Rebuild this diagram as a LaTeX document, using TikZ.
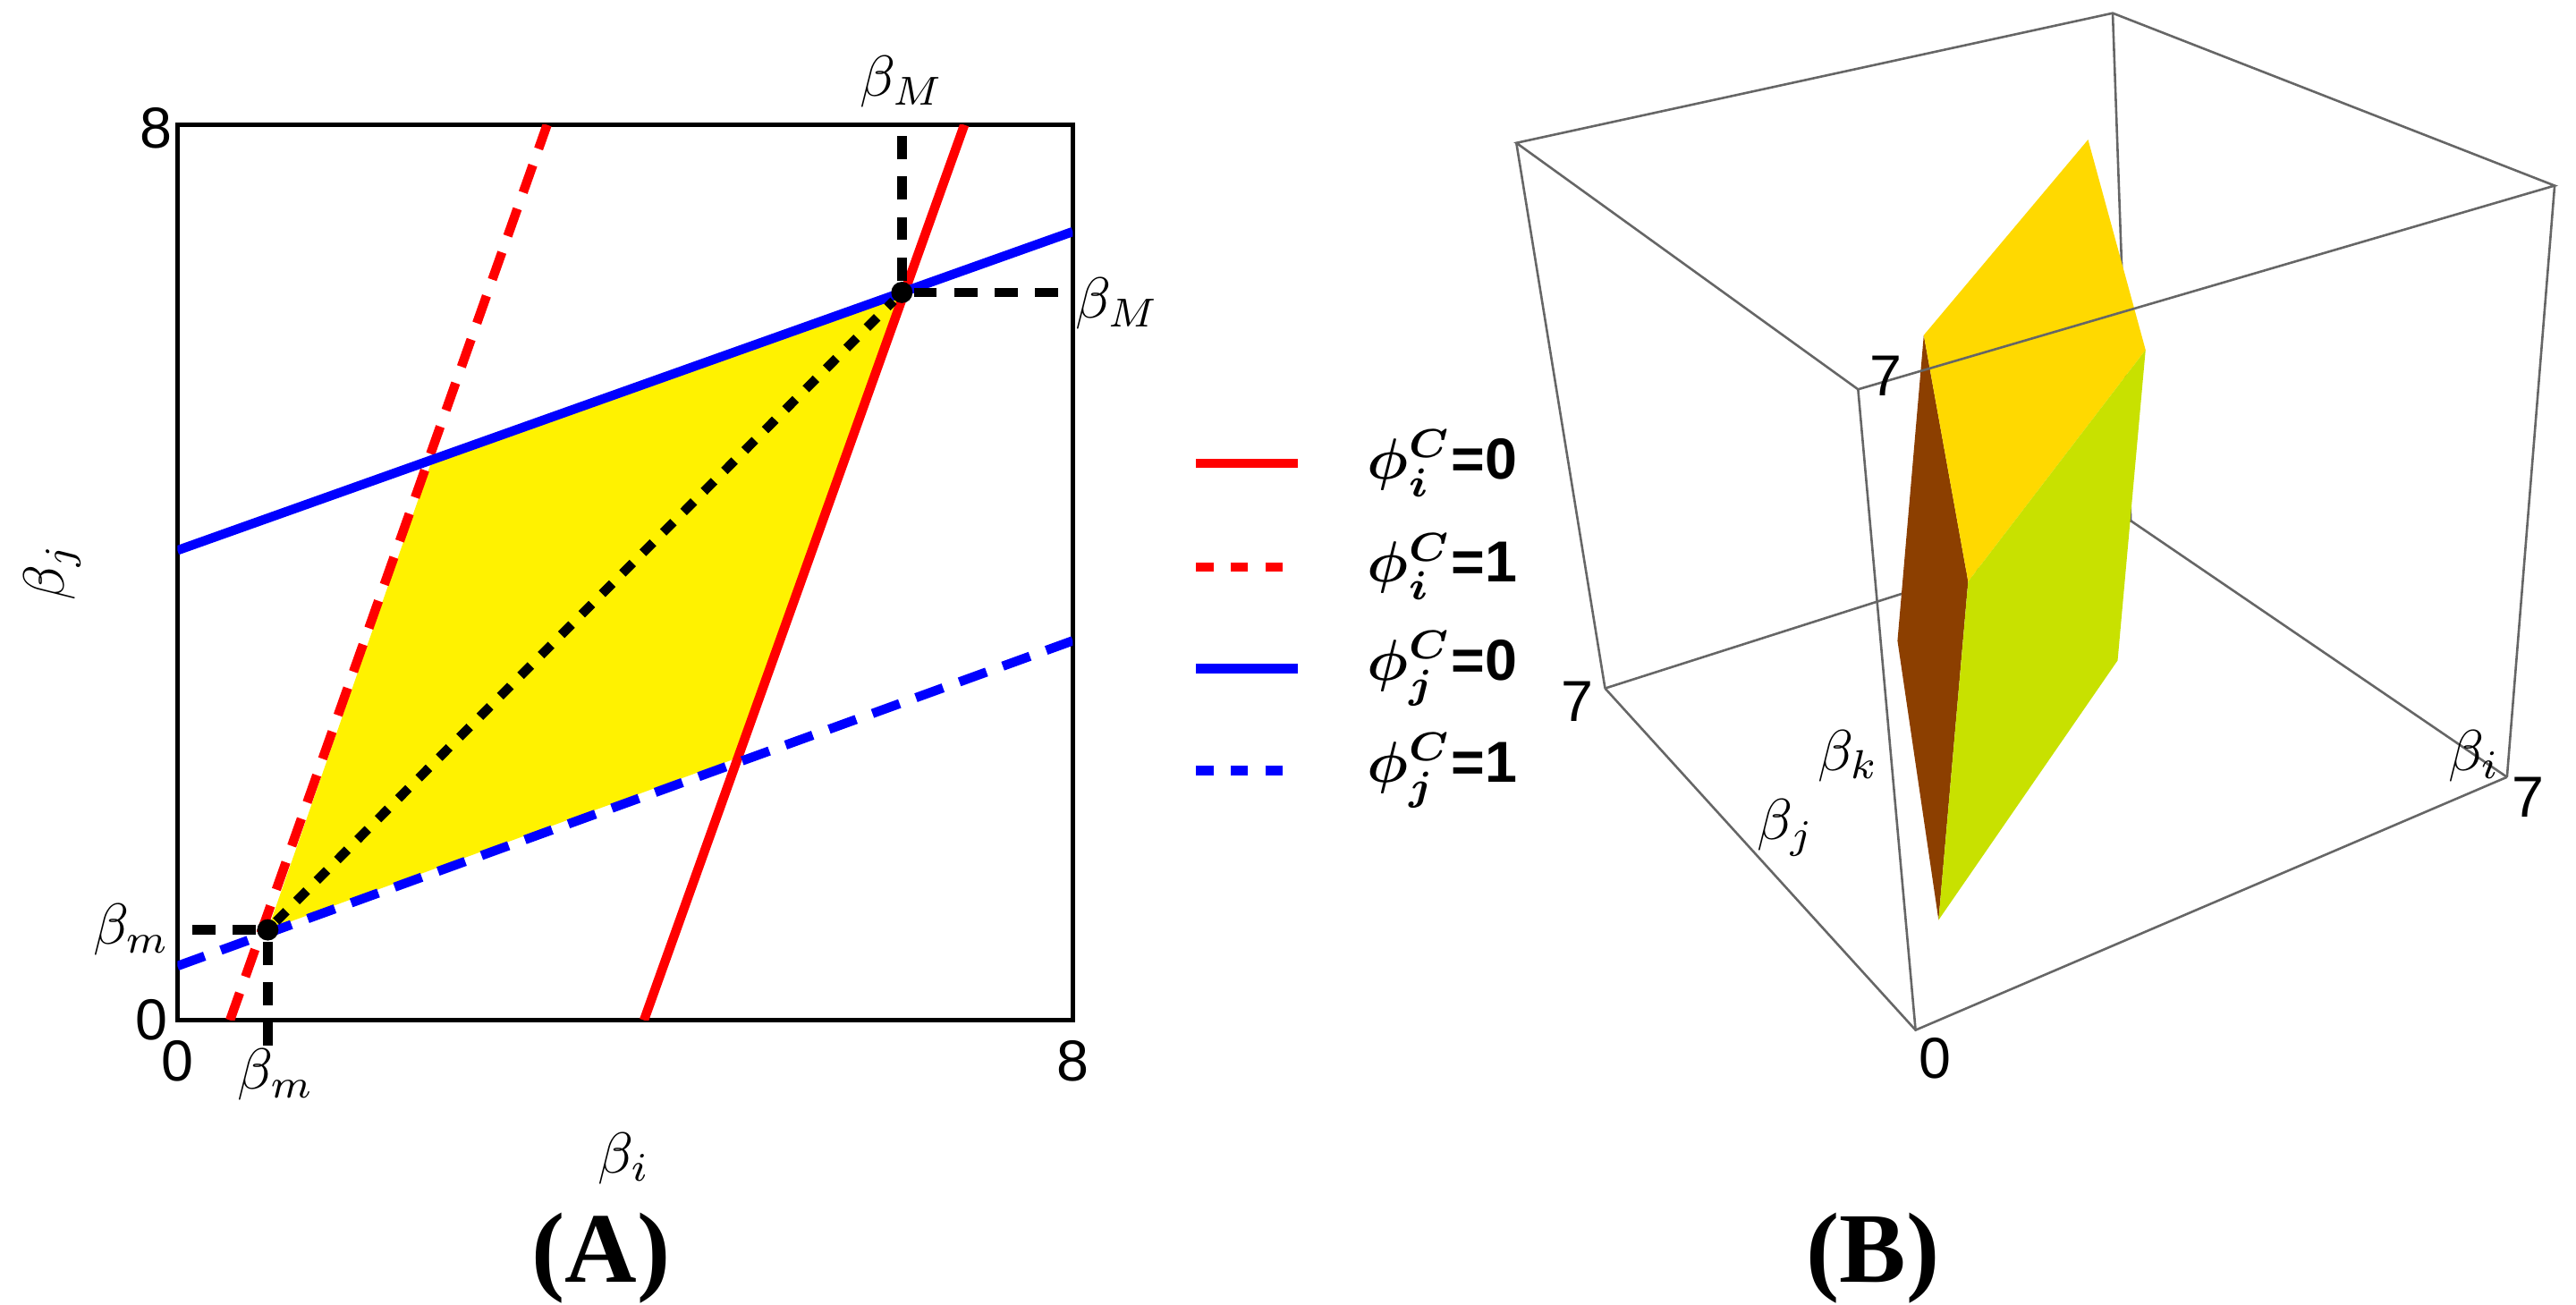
\documentclass[tikz,border=0pt]{standalone}
\usepackage{amsmath,amssymb}
\usepackage{fontspec}
\setmainfont{Liberation Sans}
\newfontfamily\capfont{Liberation Serif}
\usetikzlibrary{positioning}
\definecolor{facetop}{RGB}{255,217,0}
\definecolor{faceside}{RGB}{200,225,0}
\definecolor{faceback}{RGB}{140,63,0}
\begin{document}
\begin{tikzpicture}[x=0.01cm, y=-0.01cm, font=\normalsize]
\tikzset{dot/.style = {shape=circle, fill=black, inner sep=0pt, minimum size=0.13cm}}
\tikzset{guide/.style = {black, line width=1.6pt, dash pattern=on 4pt off 3pt}}
\tikzset{edge/.style = {line width=1.6pt}}
\tikzset{box/.style = {gray!80!black, line width=0.4pt}}
\useasboundingbox (0,0) rectangle (1568,794);
% panel A: region and lines
\fill[yellow] (163,566) -- (263,280) -- (549,178) -- (447,462) -- cycle;
\draw[line width=0.7pt] (108,76) rectangle (653,621);
\begin{scope}
\clip (108,76) rectangle (653,621);
\draw[edge, red] (392,621) -- (587,76);
\draw[edge, red, dash pattern=on 5pt off 3pt] (140,621) -- (333,76);
\draw[edge, blue] (108,335) -- (653,141);
\draw[edge, blue, dash pattern=on 5pt off 3pt] (108,588) -- (653,390);
\end{scope}
\node[dot] (m) at (163,566) {};
\node[dot] (M) at (549,178) {};
\coordinate (mx) at (163,640);
\coordinate (my) at (108,566);
\coordinate (Mx) at (549,76);
\coordinate (My) at (653,178);
\draw[black, line width=1.6pt, dash pattern=on 2.5pt off 2.5pt] (m) -- (M);
\draw[guide] (m) -- (mx);
\draw[guide] (m) -- (my);
\draw[guide] (M) -- (Mx);
\draw[guide] (M) -- (My);
% ticks and axis labels
\node (t8y) at (95,78) {8};
\node (t0y) at (92,621) {0};
\node (t0x) at (108,646) {0};
\node (t8x) at (653,646) {8};
\node (bmy) at (80,566) {$\beta_m$};
\node (bmx) at (168,654) {$\beta_m$};
\node (bMx) at (549,50) {$\beta_M$};
\node (bMy) at (680,185) {$\beta_M$};
\node (bi) at (380,705) {$\beta_i$};
\node[rotate=90] (bj) at (32,348) {$\beta_j$};
% legend
\foreach \y/\c/\p/\s/\v in {282/red/solid/i/0, 345/red/dashed/i/1, 407/blue/solid/j/0, 469/blue/dashed/j/1}
{
  \coordinate (l\y a) at (728,\y);
  \coordinate (l\y b) at (790,\y);
  \draw[edge, \c, \p] (l\y a) -- (l\y b);
  \node[anchor=west] (t\y) at (820,\y) {$\boldsymbol{\phi_\s^C}$\textbf{=\v}};
}
% panel B: hidden edges
\coordinate (A) at (923,87);
\coordinate (B) at (1286,8);
\coordinate (C) at (1555,113);
\coordinate (D) at (1131,237);
\coordinate (E) at (977,419);
\coordinate (F) at (1166,627);
\coordinate (G) at (1526,473);
\coordinate (H) at (1297,317);
\draw[box] (B) -- (H) (H) -- (E) (H) -- (G);
% solid
\fill[faceback] (1171,204) -- (1198,354) -- (1180,560) -- (1155,390) -- cycle;
\fill[facetop] (1271,85) -- (1171,204) -- (1198,354) -- (1306,213) -- cycle;
\fill[faceside] (1198,354) -- (1306,213) -- (1289,402) -- (1180,560) -- cycle;
% front edges
\draw[box] (A) -- (B) -- (C) -- (D) -- cycle;
\draw[box] (E) -- (F) -- (G);
\draw[box] (A) -- (E) (D) -- (F) (C) -- (G);
\node (k7) at (1148,229) {7};
\node (j7) at (960,427) {7};
\node (i7) at (1539,485) {7};
\node (o0) at (1178,644) {0};
\node (bk) at (1125,460) {$\beta_k$};
\node (bjB) at (1087,504) {$\beta_j$};
\node (biB) at (1506,460) {$\beta_i$};
% panel captions
\node[font=\LARGE\capfont\bfseries] (capA) at (366,766) {(A)};
\node[font=\LARGE\capfont\bfseries] (capB) at (1140,766) {(B)};
\end{tikzpicture}
\end{document}
